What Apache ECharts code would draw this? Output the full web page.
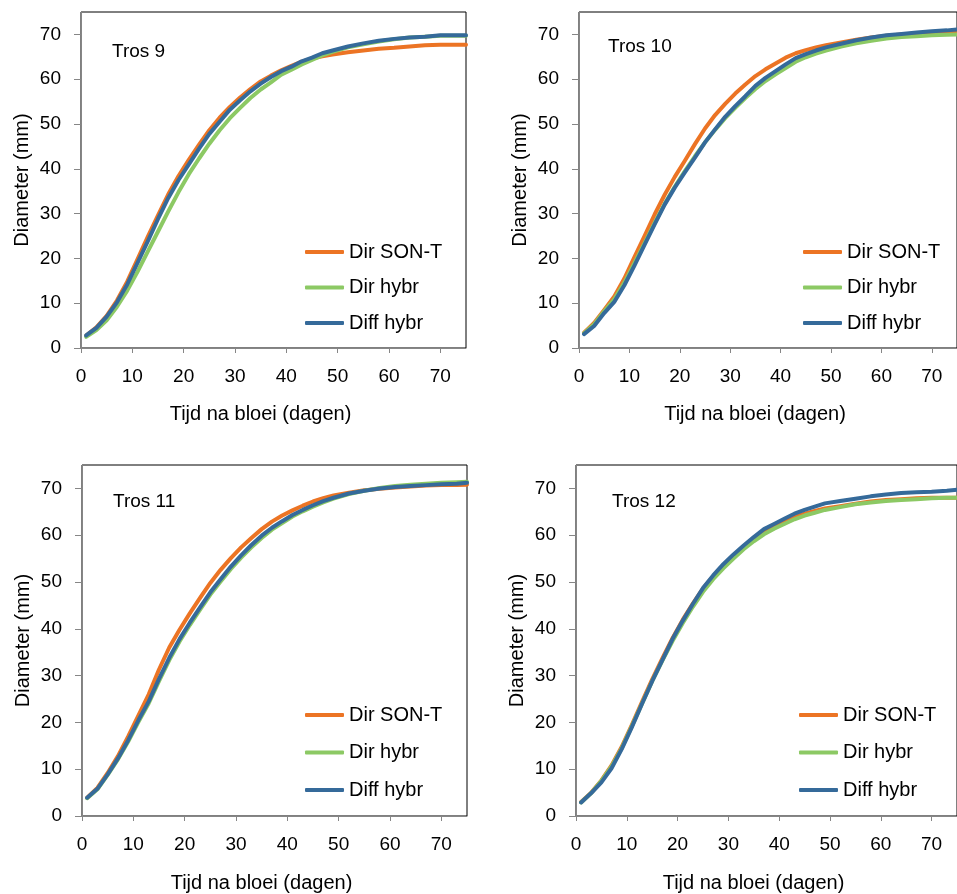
<!DOCTYPE html>
<html>
<head>
<meta charset="utf-8">
<script src="https://cdn.jsdelivr.net/npm/echarts@6/dist/echarts.min.js"></script>
<style>
html,body{margin:0;padding:0;background:#fff;}
#chart{width:957px;height:894px;}
</style>
</head>
<body>
<div id="chart"></div>
<script>
// ---- Data ----
const days = [1,3,5,7,9,11,13,15,17,19,21,23,25,27,29,31,33,35,37,39,41,43,45,47,49,52,55,58,61,64,67,70,73,75];
const seriesNames = ['Dir SON-T','Dir hybr','Diff hybr'];
const panelTitles = ['Tros 9','Tros 10','Tros 11','Tros 12'];
const xTicks = [0,10,20,30,40,50,60,70];
const yTicks = [0,10,20,30,40,50,60,70];

// Tros 9
const tros9_dirSonT = [2.8,4.6,7.2,10.6,14.8,19.8,24.8,29.6,34.3,38.4,42.0,45.4,48.6,51.4,53.8,55.9,57.8,59.5,60.8,62.0,63.0,63.9,64.6,65.1,65.5,66.0,66.4,66.8,67.0,67.3,67.6,67.7,67.7,67.7];
const tros9_dirHybr  = [2.5,4.0,6.2,9.2,12.8,17.0,21.5,26.0,30.5,34.8,38.8,42.3,45.6,48.6,51.3,53.6,55.8,57.7,59.3,61.0,62.1,63.3,64.3,65.3,66.1,67.1,67.8,68.4,68.9,69.3,69.5,69.7,69.7,69.7];
const tros9_diffHybr = [2.8,4.5,7.0,10.2,14.2,19.0,23.8,28.8,33.5,37.5,41.0,44.5,47.8,50.5,53.2,55.3,57.3,59.0,60.5,61.8,62.8,64.0,64.8,65.8,66.4,67.3,68.0,68.6,69.0,69.3,69.5,69.8,69.8,69.8];
// Tros 10
const tros10_dirSonT = [3.4,5.6,8.5,11.5,15.5,20.3,25.0,29.8,34.2,38.2,41.8,45.5,49.0,52.0,54.5,56.8,58.8,60.7,62.2,63.5,64.8,65.8,66.5,67.1,67.6,68.2,68.8,69.3,69.7,70.0,70.2,70.5,70.6,70.7];
const tros10_dirHybr  = [3.3,5.3,8.2,10.9,14.6,19.0,23.4,27.9,32.2,36.0,39.5,42.8,45.9,48.7,51.3,53.6,55.8,57.8,59.6,61.1,62.5,63.9,64.9,65.7,66.4,67.3,68.0,68.6,69.1,69.4,69.6,69.8,69.9,70.0];
const tros10_diffHybr = [3.1,4.9,7.8,10.3,14.0,18.4,23.0,27.6,32.0,35.8,39.2,42.5,45.9,48.8,51.6,54.0,56.2,58.5,60.3,61.8,63.3,64.7,65.6,66.4,67.1,67.9,68.7,69.3,69.8,70.1,70.4,70.7,70.9,71.1];
// Tros 11
const tros11_dirSonT = [3.9,6.0,9.2,12.8,17.0,21.5,26.0,31.3,36.0,39.8,43.3,46.6,49.8,52.6,55.1,57.4,59.4,61.3,62.9,64.2,65.3,66.3,67.2,67.9,68.5,69.1,69.6,69.9,70.2,70.4,70.6,70.7,70.7,70.8];
const tros11_dirHybr  = [3.8,5.7,8.8,12.1,15.9,20.1,24.1,28.8,33.3,37.3,40.8,44.1,47.3,50.1,52.8,55.2,57.4,59.4,61.2,62.6,64.0,65.1,66.1,67.0,67.8,68.8,69.5,70.1,70.5,70.8,71.0,71.2,71.3,71.4];
const tros11_diffHybr = [3.9,5.8,8.9,12.3,16.2,20.5,24.5,29.3,33.8,37.8,41.3,44.6,47.8,50.6,53.3,55.7,57.9,59.9,61.6,63.0,64.3,65.4,66.4,67.3,68.0,68.9,69.5,70.0,70.3,70.5,70.7,70.9,71.0,71.2];
// Tros 12
const tros12_dirSonT = [3.0,5.0,7.6,10.8,14.8,19.5,24.4,29.2,33.7,38.0,41.9,45.4,48.6,51.2,53.5,55.6,57.5,59.2,60.7,61.9,62.9,63.9,64.6,65.2,65.7,66.2,66.7,67.2,67.5,67.7,67.9,68.0,68.0,68.0];
const tros12_dirHybr  = [2.9,4.9,7.5,10.6,14.5,19.2,24.0,28.8,33.2,37.4,41.2,44.7,47.9,50.6,52.9,55.0,57.0,58.7,60.2,61.4,62.4,63.4,64.2,64.8,65.4,66.0,66.6,67.0,67.3,67.5,67.7,67.9,68.0,68.0];
const tros12_diffHybr = [2.9,4.9,7.2,10.2,14.3,19.0,24.0,28.8,33.3,37.8,41.7,45.3,48.7,51.4,53.8,55.9,57.8,59.6,61.3,62.4,63.5,64.6,65.4,66.1,66.8,67.3,67.8,68.3,68.7,69.0,69.2,69.3,69.5,69.7];

const panelData = [
  [tros9_dirSonT, tros9_dirHybr, tros9_diffHybr],
  [tros10_dirSonT, tros10_dirHybr, tros10_diffHybr],
  [tros11_dirSonT, tros11_dirHybr, tros11_diffHybr],
  [tros12_dirSonT, tros12_dirHybr, tros12_diffHybr]
];

// ---- Styling / layout ----
const FONT = '"Liberation Sans", Arial, sans-serif';
const colors = ['#EC7424', '#8CC964', '#356A9A'];
const grids = [
  {left: 81,  top: 12,  width: 385, height: 336},
  {left: 579, top: 12,  width: 385, height: 336},
  {left: 82,  top: 465, width: 385, height: 351},
  {left: 576, top: 465, width: 385, height: 351}
];
const titlePos = [
  {left: 112, top: 42},
  {left: 608, top: 37},
  {left: 113, top: 492},
  {left: 612, top: 492}
];
const legendPos = [
  {left: 305, top: 242, itemGap: 15.5},
  {left: 803, top: 242, itemGap: 15.5},
  {left: 305, top: 705, itemGap: 17.5},
  {left: 799, top: 705, itemGap: 17.5}
];

const option = {
  backgroundColor: '#fff',
  animation: false,
  textStyle: {fontFamily: FONT},
  title: panelTitles.map((t, i) => ({
    text: t, left: titlePos[i].left, top: titlePos[i].top, padding: 0,
    textStyle: {fontSize: 19, fontWeight: 'normal', color: '#000', fontFamily: FONT}
  })),
  legend: legendPos.map(p => ({
    data: seriesNames, orient: 'vertical', left: p.left, top: p.top, padding: 0,
    itemGap: p.itemGap, itemWidth: 39, itemHeight: 4,
    icon: 'roundRect',
    textStyle: {fontSize: 20, color: '#000', lineHeight: 20, fontFamily: FONT},
    selectedMode: false
  })),
  grid: grids.map(g => Object.assign({show: true, borderColor: '#000', borderWidth: 1, backgroundColor: 'transparent'}, g)),
  xAxis: grids.map((g, i) => ({
    type: 'value', gridIndex: i, min: 0, max: 75, interval: 10,
    name: 'Tijd na bloei (dagen)', nameLocation: 'middle', nameGap: i < 2 ? 56 : 57,
    nameTextStyle: {fontSize: 20, color: '#000', padding: [0, 26, 0, 0], fontFamily: FONT},
    axisLine: {show: true, lineStyle: {color: '#868686', width: 1}},
    axisTick: {show: true, inside: false, length: 5, lineStyle: {color: '#868686'}, customValues: xTicks},
    axisLabel: {fontSize: 19, color: '#000', margin: 19, customValues: xTicks, fontFamily: FONT},
    splitLine: {show: false}
  })),
  yAxis: grids.map((g, i) => ({
    type: 'value', gridIndex: i, min: 0, max: 75, interval: 10,
    name: 'Diameter (mm)', nameLocation: 'middle', nameGap: 49, nameRotate: 90,
    nameTextStyle: {fontSize: 20, color: '#000', fontFamily: FONT},
    axisLine: {show: true, lineStyle: {color: '#868686', width: 1}},
    axisTick: {show: true, inside: false, length: 7, lineStyle: {color: '#868686'}, customValues: yTicks},
    axisLabel: {fontSize: 19, color: '#000', margin: 20, customValues: yTicks, fontFamily: FONT},
    splitLine: {show: false}
  })),
  series: []
};

panelData.forEach((arrs, p) => {
  arrs.forEach((arr, s) => {
    option.series.push({
      type: 'line', name: seriesNames[s], xAxisIndex: p, yAxisIndex: p,
      data: days.map((d, k) => [d, arr[k]]),
      symbol: 'none', smooth: false,
      color: colors[s],
      itemStyle: {color: colors[s]},
      lineStyle: {width: 4, color: colors[s], cap: 'round', join: 'round'},
      z: 2 + s
    });
  });
});

const chart = echarts.init(document.getElementById('chart'), null, {renderer: 'canvas'});
chart.setOption(option);
</script>
</body>
</html>
